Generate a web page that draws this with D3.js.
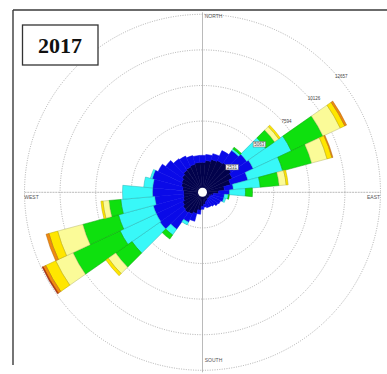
<!DOCTYPE html>
<html>
<head>
<meta charset="utf-8">
<script src="https://cdn.jsdelivr.net/npm/d3@7"></script>
<style>
  html, body { margin: 0; padding: 0; background: #fff; }
  svg { display: block; }
</style>
</head>
<body>
<script>
// Wind directions (degrees, clockwise from north), 10-degree sectors
const directions = [0, 10, 20, 30, 40, 50, 60, 70, 80, 90, 100, 110, 120, 130, 140, 150, 160, 170,
                    180, 190, 200, 210, 220, 230, 240, 250, 260, 270, 280, 290, 300, 310, 320, 330, 340, 350];

// Hourly counts per speed class (lowest class first), one value per direction
const class1 = [2133, 2275, 2417, 2489, 2560, 2489, 2346, 2062, 1564, 1138, 782, 640, 569, 569, 569, 640, 711, 853,
                995, 1280, 1564, 1706, 1778, 1706, 1564, 1422, 1351, 1351, 1422, 1564, 1635, 1778, 1920, 1991, 2062, 2133];
const class2 = [498, 427, 427, 782, 1067, 1351, 1635, 1280, 640, 782, 782, 924, 853, 782, 640, 498, 427, 213,
                213, 284, 569, 640, 1422, 1991, 2062, 2204, 2062, 2204, 2133, 2133, 1849, 1422, 995, 853, 640, 498];
const class3 = [0, 0, 0, 0, 142, 1635, 2986, 2560, 1920, 1138, 284, 142, 0, 0, 0, 0, 0, 0,
                0, 0, 0, 213, 498, 2417, 2844, 2560, 2417, 2133, 640, 142, 0, 0, 0, 0, 0, 0];
const class4 = [0, 0, 0, 0, 142, 782, 2489, 2133, 1351, 498, 71, 0, 0, 0, 0, 0, 0, 0,
                0, 0, 0, 0, 356, 1422, 3697, 2631, 853, 0, 0, 0, 0, 0, 0, 0, 0, 0];
const class5 = [0, 0, 0, 0, 0, 356, 1351, 1138, 498, 0, 0, 0, 0, 0, 0, 0, 0, 0,
                0, 0, 0, 0, 0, 640, 1351, 1849, 427, 0, 0, 0, 0, 0, 0, 0, 0, 0];
const class6 = [0, 0, 0, 0, 0, 142, 356, 356, 142, 0, 0, 0, 0, 0, 0, 0, 0, 0,
                0, 0, 0, 0, 0, 213, 782, 640, 142, 0, 0, 0, 0, 0, 0, 0, 0, 0];
const class7 = [0, 0, 0, 0, 0, 0, 142, 71, 0, 0, 0, 0, 0, 0, 0, 0, 0, 0,
                0, 0, 0, 0, 0, 0, 213, 213, 0, 0, 0, 0, 0, 0, 0, 0, 0, 0];
const class8 = [0, 0, 0, 0, 0, 0, 0, 0, 0, 0, 0, 0, 0, 0, 0, 0, 0, 0,
                0, 0, 0, 0, 0, 0, 71, 0, 0, 0, 0, 0, 0, 0, 0, 0, 0, 0];

const classKeys = ["c1", "c2", "c3", "c4", "c5", "c6", "c7", "c8"];
const classColors = ["#02024c", "#0a0ae8", "#38f8f8", "#0ee00e", "#fbfb98", "#ffe600", "#f08a10", "#c0300c"];

// Rings of the radial axis
const ringValues = [2531, 5063, 7594, 10126, 12657];
const ringLabels = ["2531", "5063", "7594", "10126", "12657"];
const compassLabels = ["NORTH", "EAST", "SOUTH", "WEST"];
const yearLabel = "2017";

const W = 387, H = 374;
const cx = 202.5, cy = 192.3, R = 178;
const sectorWidth = 10;

const svg = d3.select("body").append("svg")
  .attr("width", W).attr("height", H)
  .style("font-family", "'Liberation Sans', Arial, sans-serif");

// Outer frame (left and top edges)
svg.append("line").attr("x1", 13).attr("y1", 10).attr("x2", 13).attr("y2", 365)
  .attr("stroke", "#3a3a3a").attr("stroke-width", 1.4);
svg.append("line").attr("x1", 13).attr("y1", 10).attr("x2", W).attr("y2", 10)
  .attr("stroke", "#3a3a3a").attr("stroke-width", 1.4);

const r = d3.scaleLinear().domain([0, d3.max(ringValues)]).range([0, R]);

const g = svg.append("g").attr("transform", `translate(${cx},${cy})`);

// Dotted range rings
g.selectAll("circle.ring").data(ringValues).join("circle")
  .attr("class", "ring")
  .attr("r", d => r(d))
  .attr("fill", "none")
  .attr("stroke", "#9a9a9a")
  .attr("stroke-width", 0.8)
  .attr("stroke-dasharray", "1,1.4");

// Cross hairs
g.append("line").attr("x1", 0).attr("y1", -R - 2).attr("x2", 0).attr("y2", R + 2)
  .attr("stroke", "#a8a8a8").attr("stroke-width", 0.8);
g.append("line").attr("x1", -R).attr("y1", 0).attr("x2", R).attr("y2", 0)
  .attr("stroke", "#a8a8a8").attr("stroke-width", 0.8).attr("stroke-dasharray", "2,0.8");

// Stack speed classes per direction
const series = [class1, class2, class3, class4, class5, class6, class7, class8];
const rows = directions.map((dir, i) => {
  const row = { dir };
  classKeys.forEach((k, j) => { row[k] = series[j][i]; });
  return row;
});
const stacked = d3.stack().keys(classKeys)(rows);

const rad = deg => deg * Math.PI / 180;
const arc = d3.arc();

stacked.forEach((layer, j) => {
  const fill = classColors[j];
  // the two calm classes blend into one another; faster classes get a darker outline
  const stroke = j < 2 ? fill : d3.color(fill).darker(0.9);
  g.append("g").selectAll("path")
    .data(layer.filter(d => d[1] > d[0]))
    .join("path")
    .attr("d", d => arc({
      innerRadius: r(d[0]),
      outerRadius: r(d[1]),
      startAngle: rad(d.data.dir - sectorWidth / 2),
      endAngle: rad(d.data.dir + sectorWidth / 2)
    }))
    .attr("fill", fill)
    .attr("stroke", stroke)
    .attr("stroke-width", 0.5)
    .attr("stroke-linejoin", "round");
});

// Calm centre
g.append("circle").attr("r", 4.5).attr("fill", "#fff");

// Ring labels along the 50-degree bearing
const labelBearing = 50;
const totals = rows.map(d => d3.sum(classKeys, k => d[k]));
const labelTotal = totals[directions.indexOf(labelBearing)];
ringValues.forEach((v, i) => {
  const rr = r(v) + 3;
  const x = rr * Math.sin(rad(labelBearing));
  const y = -rr * Math.cos(rad(labelBearing));
  if (v < labelTotal) {
    const w = ringLabels[i].length * 2.6 + 2;
    g.append("rect")
      .attr("x", x - w / 2).attr("y", y - 3)
      .attr("width", w).attr("height", 5.4)
      .attr("fill", "#f4f4f4").attr("stroke", "#6a6a6a").attr("stroke-width", 0.5);
  }
  g.append("text")
    .attr("x", x).attr("y", y + 1.6)
    .attr("text-anchor", "middle")
    .attr("font-size", 4.5)
    .attr("fill", "#444")
    .text(ringLabels[i]);
});

// Compass point labels
const compassPos = [
  { x: 11, y: -174 },
  { x: 171, y: 6.5 },
  { x: 11, y: 169.5 },
  { x: -171, y: 6.5 }
];
compassLabels.forEach((t, i) => {
  g.append("text")
    .attr("x", compassPos[i].x).attr("y", compassPos[i].y)
    .attr("text-anchor", "middle")
    .attr("font-size", 5)
    .attr("fill", "#555")
    .text(t);
});

// Year box
svg.append("rect").attr("x", 22.5).attr("y", 25).attr("width", 75.5).attr("height", 40)
  .attr("fill", "#fff").attr("stroke", "#333").attr("stroke-width", 1.3);
svg.append("text").attr("x", 60).attr("y", 52.5)
  .attr("text-anchor", "middle")
  .attr("font-family", "'Liberation Serif', 'Times New Roman', serif")
  .attr("font-weight", "bold")
  .attr("font-size", 22)
  .attr("fill", "#111")
  .text(yearLabel);
</script>
</body>
</html>
